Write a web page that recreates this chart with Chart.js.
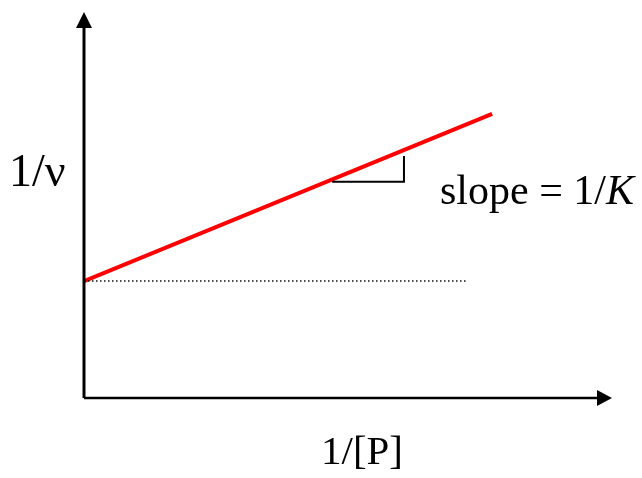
<!DOCTYPE html>
<html>
<head>
<meta charset="utf-8">
<script src="https://cdn.jsdelivr.net/npm/chart.js@4/dist/chart.umd.min.js"></script>
<style>
  html, body { margin: 0; padding: 0; background: #fff; }
  #wrap { width: 642px; height: 478px; }
</style>
</head>
<body>
<div id="wrap"><canvas id="plot" width="642" height="478"></canvas></div>
<script>
// line 1/v = intercept + slope * 1/[P]
const lineX = [0, 7.73];
const lineY = [3.03, 7.36];

// dotted intercept guide
const guideX = [0, 7.23];
const guideY = [3.03, 3.03];

// slope triangle
const triX = [4.70, 6.06, 6.06];
const triY = [5.60, 5.60, 6.27];

// axis ranges
const xMax = 10, yMax = 10;

const pts = (xs, ys) => xs.map((x, i) => ({x: x, y: ys[i]}));

const serif = '"Liberation Serif", "Times New Roman", serif';

const decor = {
    id: 'decor',
    afterDatasetsDraw(chart) {
        const {ctx, scales: {x, y}} = chart;
        const x0 = x.getPixelForValue(0), y0 = y.getPixelForValue(0);
        const xt = x.getPixelForValue(xMax), yt = y.getPixelForValue(yMax);
        ctx.save();
        ctx.fillStyle = '#000';
        // arrow heads
        ctx.beginPath();
        ctx.moveTo(x0, yt);
        ctx.lineTo(x0 - 8, yt + 16);
        ctx.lineTo(x0 + 8, yt + 16);
        ctx.closePath();
        ctx.fill();
        ctx.beginPath();
        ctx.moveTo(xt, y0);
        ctx.lineTo(xt - 15, y0 - 8);
        ctx.lineTo(xt - 15, y0 + 8);
        ctx.closePath();
        ctx.fill();

        // labels
        ctx.textBaseline = 'alphabetic';
        ctx.textAlign = 'left';
        ctx.font = '46px ' + serif;
        ctx.fillText('1/\u03bd', 9, 186);

        ctx.font = '42px ' + serif;
        const s = 'slope = 1/';
        ctx.fillText(s, 440, 204);
        const w = ctx.measureText(s).width;
        ctx.font = 'italic 42px ' + serif;
        ctx.fillText('K', 440 + w, 204);

        ctx.font = '41px ' + serif;
        ctx.fillText('1/[P]', 321, 464);
        ctx.restore();
    }
};

new Chart(document.getElementById('plot'), {
    type: 'scatter',
    data: {
        datasets: [
            { data: pts([0, 0], [0, yMax - 0.3]), borderColor: '#000', borderWidth: 3, showLine: true, pointRadius: 0, clip: false },
            { data: pts([0, xMax - 0.2], [0, 0]), borderColor: '#000', borderWidth: 2.5, showLine: true, pointRadius: 0, clip: false },
            { data: pts(guideX, guideY), borderColor: '#111', borderWidth: 1.5, borderDash: [1.5, 2.5], showLine: true, pointRadius: 0 },
            { data: pts(triX, triY), borderColor: '#000', borderWidth: 2, showLine: true, pointRadius: 0 },
            { data: pts(lineX, lineY), borderColor: '#ff0000', borderWidth: 4, showLine: true, pointRadius: 0 }
        ]
    },
    options: {
        responsive: false,
        animation: false,
        layout: { padding: { left: 84, right: 30, top: 12, bottom: 80 } },
        plugins: { legend: { display: false }, tooltip: { enabled: false } },
        scales: {
            x: { type: 'linear', min: 0, max: xMax, display: false },
            y: { type: 'linear', min: 0, max: yMax, display: false }
        }
    },
    plugins: [decor]
});
</script>
</body>
</html>
